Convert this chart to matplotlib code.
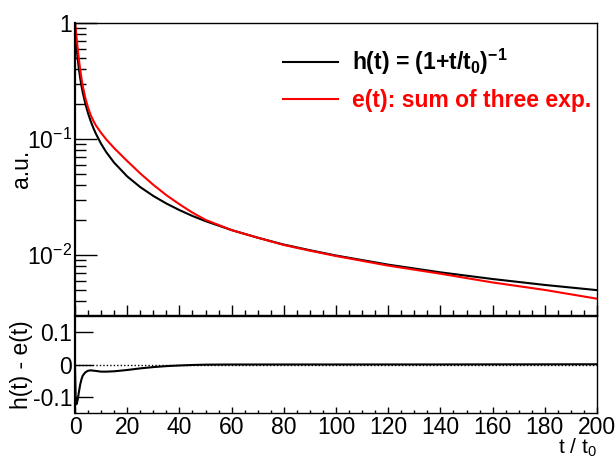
#! /usr/bin/env python3
# -*- coding: utf-8 -*-
"""Step response h(t) and its three-exponential approximation e(t)."""
import matplotlib
matplotlib.use("Agg")
import matplotlib.pyplot as plt
from matplotlib.ticker import FixedLocator, MultipleLocator, NullFormatter
import numpy as np

plt.rcParams["font.family"] = ["Liberation Sans", "DejaVu Sans"]
plt.rcParams["mathtext.fontset"] = "custom"
plt.rcParams["mathtext.rm"] = "Liberation Sans"
plt.rcParams["mathtext.it"] = "Liberation Sans"
plt.rcParams["mathtext.bf"] = "Liberation Sans:bold"

# Values (t in units of t0)
t_vals = [0, 0.25, 0.5, 0.75, 1, 1.5, 2, 2.5, 3, 4, 5, 6, 7, 8, 10, 12, 15,
          20, 25, 30, 35, 40, 45, 50, 60, 70, 80, 90, 100, 120, 140, 160,
          180, 200]
h_vals = [1.0, 0.8, 0.6667, 0.5714, 0.5, 0.4, 0.3333, 0.2857, 0.25, 0.2,
          0.1667, 0.1429, 0.125, 0.1111, 0.0909, 0.0769, 0.0625, 0.0476,
          0.0385, 0.0323, 0.0278, 0.0244, 0.0217, 0.0196, 0.0164, 0.0141,
          0.0123, 0.0110, 0.0099, 0.00826, 0.00709, 0.00621, 0.00552,
          0.00498]
e_vals = [1.01, 0.90, 0.79, 0.69, 0.61, 0.485, 0.395, 0.331, 0.284, 0.224,
          0.186, 0.161, 0.144, 0.131, 0.113, 0.099, 0.0835, 0.0646, 0.0505,
          0.0403, 0.0328, 0.0274, 0.0232, 0.0201, 0.0164, 0.0141, 0.0122,
          0.0109, 0.0098, 0.0081, 0.0069, 0.0058, 0.0050, 0.0042]

x_ticks = [0, 20, 40, 60, 80, 100, 120, 140, 160, 180, 200]
res_ticks = [-0.1, 0, 0.1]
res_tick_labels = ["-0.1", "0", "0.1"]
legend_labels = [r"h(t) = (1+t/t$_{\mathbf{0}}$)$^{\mathbf{-1}}$",
                 "e(t): sum of three exp."]

t = np.array(t_vals)
h = np.array(h_vals)
e = np.array(e_vals)
diff = h - e

W, H = 616, 458
fig = plt.figure(figsize=(W / 100, H / 100), dpi=100)
left, right = 75 / W, 597 / W
ax_top = fig.add_axes([left, 1 - 315 / H, right - left, (315 - 23) / H])
ax_bot = fig.add_axes([left, 1 - 413 / H, right - left, (413 - 316) / H])

fs = 16.5

# Upper pad
ax_top.plot(t, h, color="black", lw=1.5, label=legend_labels[0])
ax_top.plot(t, e, color="red", lw=1.5, label=legend_labels[1])
ax_top.set_yscale("log")
ax_top.set_xlim(0, 200)
ax_top.set_ylim(0.00304, 1.0)
ax_top.set_yticks([0.01, 0.1, 1])
ax_top.set_yticklabels([r"$10^{-2}$", r"$10^{-1}$", "1"])
ax_top.yaxis.set_minor_formatter(NullFormatter())
ax_top.set_ylabel("a.u.", fontsize=fs)
ax_top.yaxis.set_label_coords(-0.08, 0.5)
ax_top.xaxis.set_major_locator(FixedLocator(x_ticks))
ax_top.xaxis.set_minor_locator(MultipleLocator(5))
ax_top.tick_params(axis="x", labelbottom=False)
ax_top.tick_params(axis="y", which="major", length=16)
ax_top.tick_params(axis="y", which="minor", length=8)
ax_top.tick_params(axis="x", which="major", length=7)
ax_top.tick_params(axis="x", which="minor", length=3.5)

leg = ax_top.legend(loc="upper left", bbox_to_anchor=(0.398, 0.918),
                    frameon=False, borderpad=0, borderaxespad=0,
                    handlelength=2.4, handletextpad=0.6,
                    labelspacing=0.5, prop={"weight": "bold", "size": fs})
for txt, col in zip(leg.get_texts(), ["black", "red"]):
    txt.set_color(col)

# Lower pad
ax_bot.axhline(0, color="black", lw=1.0, ls=(0, (1, 1.5)))
ax_bot.plot(t, diff, color="black", lw=1.5)
ax_bot.set_xlim(0, 200)
ax_bot.set_ylim(-0.15, 0.15)
ax_bot.set_yticks(res_ticks)
ax_bot.set_yticklabels(res_tick_labels)
ax_bot.set_ylabel("h(t) - e(t)", fontsize=fs)
ax_bot.yaxis.set_label_coords(-0.08, 0.5)
ax_bot.xaxis.set_major_locator(FixedLocator(x_ticks))
ax_bot.xaxis.set_minor_locator(MultipleLocator(5))
ax_bot.set_xticklabels([str(v) for v in x_ticks])
ax_bot.tick_params(axis="y", which="major", length=13)
ax_bot.tick_params(axis="x", which="major", length=4)
ax_bot.tick_params(axis="x", which="minor", length=2)
ax_bot.set_xlabel(r"t / t$_0$", fontsize=15)
ax_bot.xaxis.set_label_coords(1.0, -0.24)
ax_bot.xaxis.label.set_horizontalalignment("right")

for ax in (ax_top, ax_bot):
    ax.tick_params(which="both", direction="in", labelsize=fs, width=1.0,
                   color="black", pad=2, top=False, right=False)
    for sp in ax.spines.values():
        sp.set_linewidth(1.0)
    ax.spines["left"].set_linewidth(1.6)

fig.savefig("out.png", dpi=100)
